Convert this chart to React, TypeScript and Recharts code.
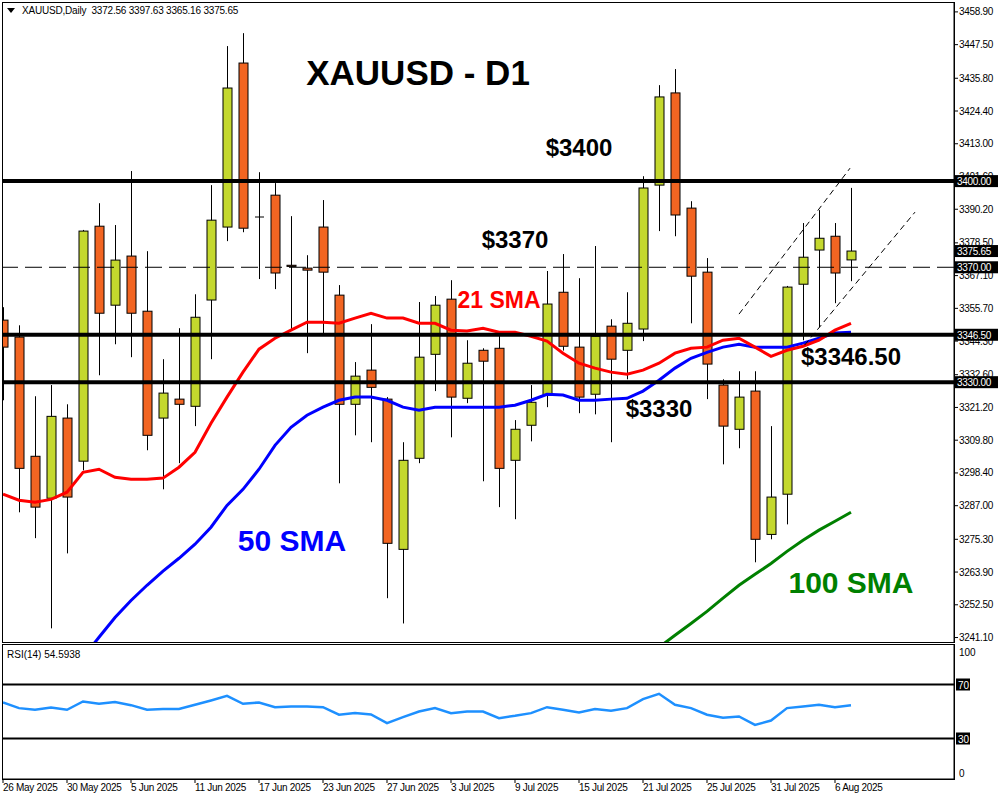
import React from 'react';
import { ComposedChart, Bar, Line, XAxis, YAxis, ReferenceLine, ReferenceDot } from 'recharts';

// daily candles, 26 May 2025 .. 7 Aug 2025 (index = trading day)
const OPEN = [3351.6, 3345.7, 3304.2, 3289.6, 3317.5, 3302.5, 3384.3, 3356.8, 3373.9, 3354.7, 3317.5, 3324.1, 3321.6, 3358.6, 3384.0, 3441.1, 3387.5, 3395.1, 3370.7, 3369.7, 3384.0, 3360.3, 3322.3, 3334.2, 3324.1, 3271.8, 3303.5, 3339.7, 3358.9, 3324.4, 3341.1, 3341.8, 3302.8, 3315.0, 3325.5, 3361.3, 3342.2, 3325.8, 3349.5, 3341.1, 3348.5, 3398.6, 3430.7, 3390.6, 3368.3, 3329.0, 3313.6, 3326.9, 3277.0, 3291.0, 3364.1, 3376.0, 3380.8, 3372.56];
const HIGH = [3356.1, 3349.8, 3325.1, 3329.0, 3322.3, 3383.0, 3392.3, 3384.7, 3403.5, 3375.6, 3338.0, 3348.8, 3360.6, 3398.6, 3447.0, 3451.5, 3403.1, 3399.3, 3387.8, 3374.2, 3393.4, 3363.8, 3337.0, 3350.2, 3324.8, 3309.1, 3357.9, 3360.0, 3365.5, 3344.6, 3341.8, 3347.1, 3316.8, 3329.0, 3368.7, 3374.6, 3366.2, 3377.4, 3351.9, 3361.3, 3401.7, 3433.4, 3439.0, 3393.0, 3373.2, 3331.0, 3333.8, 3333.8, 3314.7, 3363.5, 3385.4, 3389.9, 3385.4, 3397.63];
const LOW = [3323.7, 3284.7, 3275.7, 3244.3, 3270.4, 3299.3, 3332.4, 3343.2, 3338.7, 3306.3, 3292.7, 3301.8, 3314.7, 3338.0, 3379.1, 3382.2, 3365.9, 3362.4, 3348.1, 3340.1, 3347.1, 3294.8, 3311.5, 3309.1, 3254.8, 3246.0, 3301.8, 3326.9, 3310.8, 3322.7, 3295.5, 3286.5, 3282.3, 3309.4, 3321.3, 3341.0, 3319.2, 3318.8, 3309.1, 3331.0, 3344.3, 3382.6, 3380.8, 3350.5, 3324.1, 3301.4, 3307.0, 3267.3, 3275.3, 3280.5, 3344.6, 3349.1, 3357.5, 3365.16];
const CLOSE = [3342.2, 3300.0, 3286.5, 3318.1, 3290.0, 3382.6, 3354.0, 3372.5, 3354.0, 3311.5, 3326.2, 3322.3, 3352.6, 3386.4, 3432.4, 3383.6, 3387.5, 3368.0, 3370.3, 3369.0, 3368.3, 3322.3, 3332.1, 3328.2, 3273.9, 3302.8, 3338.7, 3356.8, 3324.8, 3336.6, 3337.3, 3300.0, 3313.6, 3323.0, 3357.2, 3342.5, 3324.8, 3346.0, 3338.0, 3350.5, 3397.6, 3429.3, 3388.2, 3366.9, 3336.3, 3314.7, 3324.8, 3275.3, 3290.0, 3363.1, 3373.5, 3380.1, 3368.0, 3375.65];

const SMA21 = [3291.0, 3288.9, 3288.2, 3289.2, 3291.7, 3298.6, 3299.7, 3296.9, 3296.2, 3296.2, 3296.6, 3300.4, 3305.6, 3315.7, 3324.8, 3333.5, 3341.5, 3345.3, 3348.1, 3350.9, 3350.9, 3350.5, 3352.3, 3354.0, 3352.3, 3352.3, 3350.5, 3350.5, 3348.1, 3347.8, 3348.8, 3347.4, 3347.4, 3346.0, 3344.3, 3340.1, 3336.6, 3334.9, 3333.5, 3332.8, 3334.2, 3336.6, 3340.1, 3341.8, 3342.2, 3344.6, 3345.3, 3342.2, 3339.0, 3341.1, 3342.5, 3344.6, 3348.1, 3350.5];
const SMA50 = [null, null, null, null, null, 3234.2, 3241.2, 3248.1, 3254.0, 3259.3, 3264.2, 3268.7, 3273.6, 3279.5, 3287.1, 3292.7, 3299.7, 3308.0, 3314.3, 3318.5, 3321.3, 3323.7, 3324.8, 3324.8, 3323.7, 3321.3, 3320.2, 3321.3, 3321.3, 3321.3, 3321.3, 3321.3, 3322.0, 3323.7, 3325.8, 3325.5, 3323.7, 3323.7, 3324.1, 3324.4, 3326.9, 3330.7, 3334.9, 3338.3, 3340.4, 3342.2, 3343.2, 3342.2, 3342.2, 3342.2, 3343.6, 3345.3, 3347.1, 3347.4];
const SMA100 = [null, null, null, null, null, null, null, null, null, null, null, null, null, null, null, null, null, null, null, null, null, null, null, null, null, null, null, null, null, null, null, null, null, null, null, null, null, null, null, null, null, 3237.7, 3241.9, 3246.0, 3250.2, 3254.8, 3259.3, 3263.1, 3266.9, 3271.1, 3275.0, 3278.5, 3281.6, 3284.7];

const RSI = [56.7, 52.5, 51.3, 53.0, 51.3, 57.4, 55.7, 57.0, 54.7, 51.3, 51.8, 51.8, 55.0, 58.2, 61.6, 55.7, 56.7, 53.2, 53.7, 53.7, 53.2, 47.6, 48.8, 47.8, 41.4, 45.8, 50.0, 52.5, 48.8, 50.0, 50.0, 45.1, 46.8, 48.8, 53.2, 51.3, 49.3, 51.8, 50.5, 52.5, 59.2, 63.1, 55.0, 52.5, 47.6, 45.3, 46.3, 40.1, 43.3, 52.5, 53.7, 55.0, 53.2, 54.5938];

const DATE_TICKS = [0, 4, 8, 12, 16, 20, 24, 28, 32, 36, 40, 44, 48, 52];
const DATE_LABELS = ['26 May 2025', '30 May 2025', '5 Jun 2025', '11 Jun 2025', '17 Jun 2025', '23 Jun 2025', '27 Jun 2025', '3 Jul 2025', '9 Jul 2025', '15 Jul 2025', '21 Jul 2025', '25 Jul 2025', '31 Jul 2025', '6 Aug 2025'];

const PRICE_TICKS = [3458.9, 3447.5, 3435.8, 3424.4, 3413.0, 3401.6, 3390.2, 3378.5, 3367.1, 3355.7, 3344.3, 3332.6, 3321.2, 3309.8, 3298.4, 3287.0, 3275.3, 3263.9, 3252.5, 3241.1];
const LEVELS_SOLID = [3400, 3346.5, 3330];
const LEVEL_DASHED = 3370;
const LAST_PRICE = 3375.65;
// values shown as black tags on the price scale (drawn last, over the normal ticks)
const PRICE_TAGS = [LAST_PRICE, LEVEL_DASHED, ...LEVELS_SOLID];

const CHANNEL = [
  { x1: 46, y1: 3353.7, x2: 52.94, y2: 3404.5 },
  { x1: 50.1, y1: 3342.9, x2: 57, y2: 3389.2 },
];

const NOTES = [
  { i: 25.94, p: 3437.9, text: 'XAUUSD - D1', color: '#000000', size: 35 },
  { i: 36, p: 3411.8, text: '$3400', color: '#000000', size: 24 },
  { i: 32, p: 3379.8, text: '$3370', color: '#000000', size: 24 },
  { i: 31, p: 3358.6, text: '21 SMA', color: '#ff0000', size: 23 },
  { i: 53, p: 3339.1, text: '$3346.50', color: '#000000', size: 24 },
  { i: 41, p: 3320.7, text: '$3330', color: '#000000', size: 24 },
  { i: 18.06, p: 3274.8, text: '50 SMA', color: '#0000ff', size: 30 },
  { i: 53, p: 3260.2, text: '100 SMA', color: '#008000', size: 30 },
];

const X_MAX = 59.4375;
const FONT = '"Liberation Sans", Arial, sans-serif';

const candles = OPEN.map((o, i) => ({
  i,
  open: o,
  high: HIGH[i],
  low: LOW[i],
  close: CLOSE[i],
  range: [LOW[i], HIGH[i]],
  sma21: SMA21[i],
  sma50: SMA50[i],
  sma100: SMA100[i],
}));

const rsiData = RSI.map((v, i) => ({ i, rsi: v }));

function Candle(props: any) {
  const { x, y, width, height, payload } = props;
  if (height == null || !payload) return null;
  const { open, close, high, low } = payload;
  const k = height / (high - low);
  const py = (p: number) => y + (high - p) * k;
  const cx = Math.round(x + width / 2) + 0.5;
  const top = py(Math.max(open, close));
  const bot = py(Math.min(open, close));
  const bull = close >= open;
  return (
    <g>
      <line x1={cx} x2={cx} y1={y} y2={y + height} stroke="#000" strokeWidth={1} />
      {bot - top < 0.8 ? (
        <line x1={cx - 4.5} x2={cx + 4.5} y1={top} y2={top} stroke="#000" strokeWidth={1} />
      ) : (
        <rect
          x={cx - 4.5}
          y={top}
          width={9}
          height={bot - top}
          fill={bull ? '#c4d82e' : '#f26522'}
          stroke="#000"
          strokeWidth={1}
        />
      )}
    </g>
  );
}

function PriceTick(props: any) {
  const { x, y, payload } = props;
  const v = payload.value;
  if (PRICE_TAGS.includes(v)) {
    return (
      <g>
        <rect x={x - 4} y={y - 6} width={43} height={12} fill="#000" />
        <text x={x - 2} y={y + 4} fill="#fff" fontSize={10} fontFamily={FONT} letterSpacing={-0.3}>
          {v.toFixed(2)}
        </text>
      </g>
    );
  }
  return (
    <g>
      <line x1={x - 5} x2={x - 1} y1={y} y2={y} stroke="#000" />
      <text x={x} y={y + 3.5} fill="#000" fontSize={10} fontFamily={FONT} letterSpacing={-0.3}>
        {v.toFixed(2)}
      </text>
    </g>
  );
}

function DateTick(props: any) {
  const { x, y, payload } = props;
  const idx = DATE_TICKS.indexOf(payload.value);
  return (
    <text x={x} y={y + 8} fill="#000" fontSize={10} fontFamily={FONT} letterSpacing={-0.3} textAnchor="start">
      {DATE_LABELS[idx]}
    </text>
  );
}

function RsiTick(props: any) {
  const { x, y, payload } = props;
  const v = payload.value;
  if (v === 70 || v === 30) {
    return (
      <g>
        <rect x={x - 3} y={y - 6} width={14} height={12} fill="#000" />
        <text x={x - 1} y={y + 4} fill="#fff" fontSize={10} fontFamily={FONT}>{v}</text>
      </g>
    );
  }
  const dy = v === 100 ? 12 : -2;
  return (
    <text x={x} y={y + dy} fill="#000" fontSize={10} fontFamily={FONT}>{v}</text>
  );
}

export default function App() {
  return (
    <div style={{ position: 'absolute', left: 0, top: 0, width: 1000, height: 800, background: '#fff', overflow: 'hidden' }}>
      <div style={{ position: 'absolute', left: 0, top: 0 }}>
        <ComposedChart width={1000} height={645} data={candles} margin={{ top: 3, right: 0, bottom: 2, left: 3 }}>
          <XAxis type="number" dataKey="i" domain={[0, X_MAX]} allowDataOverflow hide />
          <YAxis
            orientation="right"
            width={46}
            domain={[3239.2, 3462]}
            allowDataOverflow
            ticks={[...PRICE_TICKS, ...PRICE_TAGS]}
            interval={0}
            tick={<PriceTick />}
            tickSize={4}
            tickMargin={1}
            tickLine={false}
            axisLine={{ stroke: '#000' }}
          />
          <Bar dataKey="range" barSize={10} shape={<Candle />} isAnimationActive={false} />
          <Line dataKey="sma100" stroke="#008000" strokeWidth={3} dot={false} isAnimationActive={false} />
          <Line dataKey="sma50" stroke="#0000ff" strokeWidth={3} dot={false} isAnimationActive={false} />
          <Line dataKey="sma21" stroke="#ff0000" strokeWidth={3} dot={false} isAnimationActive={false} />
          <ReferenceLine y={LEVEL_DASHED} stroke="#000" strokeWidth={1} strokeDasharray="17 7" />
          {LEVELS_SOLID.map((lv) => (
            <ReferenceLine key={lv} y={lv} stroke="#000" strokeWidth={4} />
          ))}
          {CHANNEL.map((c, k) => (
            <ReferenceLine
              key={k}
              segment={[{ x: c.x1, y: c.y1 }, { x: c.x2, y: c.y2 }]}
              stroke="#000"
              strokeWidth={1}
              strokeDasharray="6 4"
            />
          ))}
          {NOTES.map((n) => (
            <ReferenceDot
              key={n.text}
              x={n.i}
              y={n.p}
              r={0}
              stroke="none"
              fill="none"
              label={{ value: n.text, position: 'center', fill: n.color, fontSize: n.size, fontWeight: 'bold', fontFamily: FONT }}
            />
          ))}
        </ComposedChart>
      </div>
      <div style={{ position: 'absolute', left: 2, top: 2, width: 953, height: 641, border: '1px solid #000', boxSizing: 'border-box', pointerEvents: 'none' }} />
      <div style={{ position: 'absolute', left: 7, top: 5, fontSize: 10, fontFamily: FONT, letterSpacing: -0.2, color: '#000', whiteSpace: 'nowrap', display: 'flex', alignItems: 'center' }}>
        <svg width={10} height={8} style={{ marginRight: 5 }}>
          <polygon points="0,1 8,1 4,6" fill="#000" />
        </svg>
        XAUUSD,Daily&nbsp; 3372.56 3397.63 3365.16 3375.65
      </div>

      <div style={{ position: 'absolute', left: 0, top: 644 }}>
        <ComposedChart width={1000} height={156} data={rsiData} margin={{ top: 0, right: 0, bottom: 0, left: 3 }}>
          <XAxis
            type="number"
            dataKey="i"
            domain={[0, X_MAX]}
            allowDataOverflow
            ticks={DATE_TICKS}
            interval={0}
            height={21}
            tick={<DateTick />}
            tickSize={4}
            tickMargin={0}
            tickLine={{ stroke: '#000' }}
            axisLine={{ stroke: '#000' }}
          />
          <YAxis
            orientation="right"
            width={46}
            domain={[0, 100]}
            ticks={[0, 30, 70, 100]}
            interval={0}
            tick={<RsiTick />}
            tickSize={3}
            tickMargin={2}
            tickLine={false}
            axisLine={{ stroke: '#000' }}
          />
          <ReferenceLine y={70} stroke="#000" strokeWidth={2} />
          <ReferenceLine y={30} stroke="#000" strokeWidth={2} />
          <Line dataKey="rsi" stroke="#1e90ff" strokeWidth={2.5} dot={false} isAnimationActive={false} />
        </ComposedChart>
      </div>
      <div style={{ position: 'absolute', left: 2, top: 644, width: 953, height: 136, border: '1px solid #000', boxSizing: 'border-box', pointerEvents: 'none' }} />
      <div style={{ position: 'absolute', left: 7, top: 649, fontSize: 10, fontFamily: FONT, color: '#000', whiteSpace: 'nowrap' }}>
        RSI(14) 54.5938
      </div>
    </div>
  );
}
